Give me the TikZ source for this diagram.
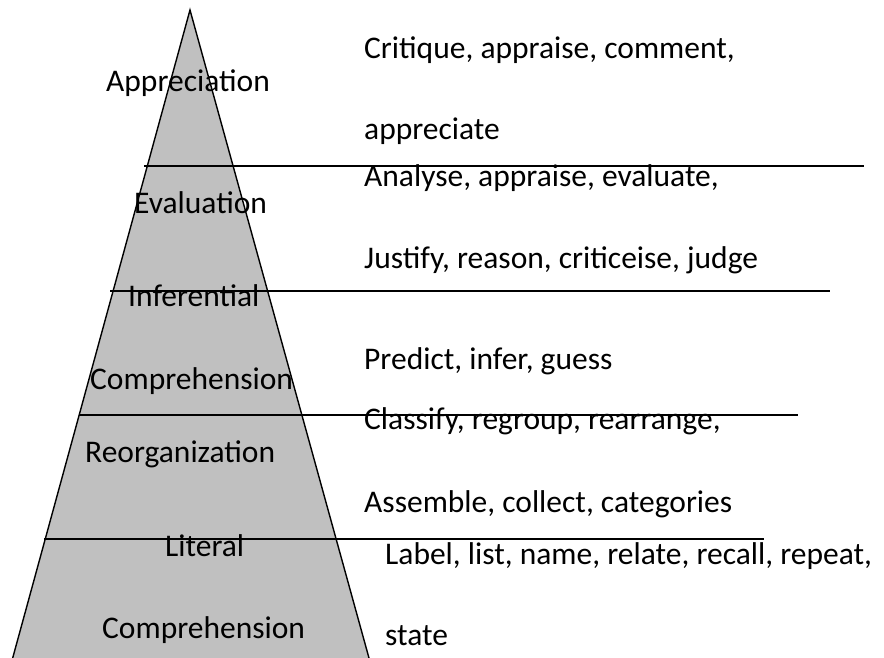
\documentclass[tikz,border=0pt]{standalone}
\usepackage{fontspec}
\setmainfont{Carlito}
\usepackage{tikz}
\usetikzlibrary{positioning}
\definecolor{pyramidgrau}{RGB}{192,192,192}
\tikzset{
  stufe/.style={anchor=base west,inner sep=0pt,font=\fontsize{31.5}{38}\selectfont},
  verben/.style={stufe},
  trennlinie/.style={black,line width=1.4pt},
}

\begin{document}
\begin{tikzpicture}[x=1pt,y=-1pt]
%Bildgroesse wie die Vorlage, alles ausserhalb wird abgeschnitten
\clip (0,0) rectangle (884,658);
  \pgfmathsetmacro{\spitzeX}{190}
  \pgfmathsetmacro{\spitzeY}{10}
%Pyramide, Grundseite liegt unterhalb vom Bildrand
\draw[trennlinie,fill=pyramidgrau] (\spitzeX,\spitzeY) -- (9.4,670) -- (372.3,670) -- cycle;
%Trennlinien: Hoehe / linkes Ende / rechtes Ende
\foreach \y/\xa/\xb in {166/144/864, 291/110/830, 415/79/798, 539/44/764}{
\draw[trennlinie] (\xa,\y) -- (\xb,\y);
}
%Stufen
\node[stufe] (appreciation) at (106,91.7) {Appreciation};
\node[stufe] (evaluation) at (134,213.3) {Evaluation};
\node[stufe] (inferential) at (128,306) {Inferential};
\node[stufe] (comprehensionA) at (90,389) {Comprehension};
\node[stufe] (reorganization) at (85,462.3) {Reorganization};
\node[stufe] (literal) at (165,556.7) {Literal};
\node[stufe] (comprehensionB) at (102,638.3) {Comprehension};
%Verben rechts
\node[verben] (kritik) at (364,58.3) {Critique, appraise, comment,};
\node[verben] (kritikB) at (364,140) {appreciate};
\node[verben] (analyse) at (364,186) {Analyse, appraise, evaluate,};
\node[verben] (analyseB) at (364,268) {Justify, reason, criticeise, judge};
\node[verben] (vorhersage) at (364,369) {Predict, infer, guess};
\node[verben] (klassifizieren) at (364,429.7) {Classify, regroup, rearrange,};
\node[verben] (klassifizierenB) at (364,512.3) {Assemble, collect, categories};
\node[verben] (benennen) at (385,564) {Label, list, name, relate, recall, repeat,};
\node[verben] (benennenB) at (385,645) {state};
\end{tikzpicture}
\end{document}
